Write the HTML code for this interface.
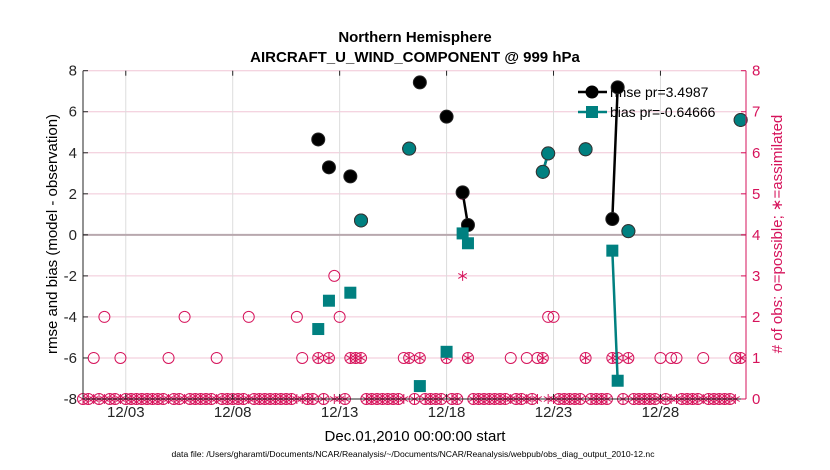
<!DOCTYPE html>
<html><head><meta charset="utf-8">
<style>
html,body{margin:0;padding:0;background:#fff;width:830px;height:470px;overflow:hidden}
svg{display:block;font-family:"Liberation Sans",sans-serif}
</style></head>
<body>
<svg id="chart" width="830" height="470" viewBox="0 0 830 470" xmlns="http://www.w3.org/2000/svg">
<text x="415" y="42" text-anchor="middle" font-size="15" font-weight="bold">Northern Hemisphere</text>
<text x="415" y="62" text-anchor="middle" font-size="15" font-weight="bold">AIRCRAFT_U_WIND_COMPONENT @ 999 hPa</text>
<text x="415" y="441" text-anchor="middle" font-size="15">Dec.01,2010 00:00:00 start</text>
<text x="413" y="457" text-anchor="middle" font-size="8.5" textLength="483" lengthAdjust="spacingAndGlyphs">data file: /Users/gharamti/Documents/NCAR/Reanalysis/~/Documents/NCAR/Reanalysis/webpub/obs_diag_output_2010-12.nc</text>
<text transform="translate(57,234) rotate(-90)" text-anchor="middle" font-size="15">rmse and bias (model - observation)</text>
<text transform="translate(782,234) rotate(-90)" text-anchor="middle" font-size="15" fill="#d6135b"># of obs: o=possible; ∗=assimilated</text>
<g id="grid"></g><g id="legend"></g><g id="obs"></g><g id="series"></g><g id="axes"></g>
</svg>
<script>
// ---- data ----
const xTickDays = [2, 7, 12, 17, 22, 27];
const xTickLabels = ["12/03", "12/08", "12/13", "12/18", "12/23", "12/28"];
const yTicks = [-8, -6, -4, -2, 0, 2, 4, 6, 8];
const yRightTicks = [0, 1, 2, 3, 4, 5, 6, 7, 8];
const rmseDays = [11, 11.5, 12.5, 13, 15.25, 15.75, 17, 17.75, 18, 21.5, 21.75, 23.5, 24.75, 25, 25.5, 30.75];
const rmseVals = [4.65, 3.29, 2.85, 0.7, 4.2, 7.43, 5.76, 2.07, 0.48, 3.07, 3.97, 4.17, 0.77, 7.19, 0.18, 5.6];
const biasVals = [-4.59, -3.21, -2.82, 0.7, 4.2, -7.37, -5.7, 0.07, -0.41, 3.07, 3.97, 4.17, -0.77, -7.11, 0.18, 5.6];
const possibleDays = [0.5, 1, 1.75, 4, 4.75, 6.25, 7.75, 10, 10.25, 11, 11.5, 11.75, 12, 12.5, 12.75, 13, 15, 15.25, 15.75, 17, 17.75, 18, 20, 20.75, 21.25, 21.5, 21.75, 22, 23.5, 24.75, 25, 25.5, 27, 27.5, 27.75, 29, 30.5, 30.75];
const possibleCounts = [1, 2, 1, 1, 2, 1, 2, 2, 1, 1, 1, 3, 2, 1, 1, 1, 1, 1, 1, 1, 5, 1, 1, 1, 1, 1, 2, 2, 1, 1, 1, 1, 1, 1, 1, 1, 1, 1];
const assimCounts = [0, 0, 0, 0, 0, 0, 0, 0, 0, 1, 1, 0, 0, 1, 1, 1, 0, 1, 1, 1, 3, 1, 0, 0, 0, 1, 0, 0, 1, 1, 1, 1, 0, 0, 0, 0, 0, 1];
// ---- axes ----
const X0 = 83, X1 = 746, Y0 = 70.7, Y1 = 399;
const xS = d => X0 + d / 31 * (X1 - X0);
const yS = v => Y1 - (v + 8) / 16 * (Y1 - Y0);
const yR = n => Y1 - n / 8 * (Y1 - Y0);
const NS = "http://www.w3.org/2000/svg";
function mk(tag, attrs, parent) { const e = document.createElementNS(NS, tag); for (const k in attrs) e.setAttribute(k, attrs[k]); parent.appendChild(e); return e; }
const grid = document.getElementById('grid'), axes = document.getElementById('axes'), obs = document.getElementById('obs'), ser = document.getElementById('series'), leg = document.getElementById('legend');
const CR = "#d6135b", TE = "#008080";
yTicks.forEach(v => {
  const l = mk('line', {x1: X0, x2: X1, y1: yS(v), y2: yS(v), stroke: "#f0c6d6", "stroke-width": 1}, grid);
  
  
});
xTickDays.forEach(d => {
  const l = mk('line', {x1: xS(d), x2: xS(d), y1: Y0, y2: Y1, stroke: "#dcdcdc", "stroke-width": 1}, grid);
  
  
});
const zl = mk('line', {x1: X0, x2: X1, y1: yS(0), y2: yS(0), stroke: "#b8a8ae", "stroke-width": 2}, grid);


// legend
[["rmse pr=3.4987", "#000", 92, "c"], ["bias pr=-0.64666", TE, 112, "s"]].forEach(([t, c, y, m]) => {
  const g = mk('g', {}, leg);
  
  
  mk('line', {x1: 578, x2: 607, y1: y, y2: y, stroke: c, "stroke-width": 2.5}, g);
  if (m === "c") mk('circle', {cx: 592, cy: y, r: 6.5, fill: c}, g);
  else mk('rect', {x: 586, y: y - 6, width: 12, height: 12, fill: c}, g);
  const tx = mk('text', {x: 610, y: y + 5, "font-size": 14}, g); tx.textContent = t;
});
// obs markers (all 6-hourly slots)
function star(x, y, g) {
  for (let a = 0; a < 3; a++) { const an = a * Math.PI / 3 + Math.PI / 2; mk('line', {x1: x - 5 * Math.cos(an), y1: y - 5 * Math.sin(an), x2: x + 5 * Math.cos(an), y2: y + 5 * Math.sin(an), stroke: CR, "stroke-width": 1}, g); }
}
for (let k = 0; k < 124; k++) {
  const d = k * 0.25;
  const i = possibleDays.indexOf(d);
  const p = i >= 0 ? possibleCounts[i] : 0, a = i >= 0 ? assimCounts[i] : 0;
  const g = mk('g', {}, obs);
  
  
  mk('circle', {cx: xS(d), cy: yR(p), r: 5.5, fill: "none", stroke: CR, "stroke-width": 1}, g);
  star(xS(d), yR(a), g);
}
// series
function seriesDraw(vals, color, name) {
  for (let i = 1; i < rmseDays.length; i++) {
    if (Math.abs(rmseDays[i] - rmseDays[i - 1] - 0.25) < 1e-6) {
      const l = mk('line', {x1: xS(rmseDays[i - 1]), y1: yS(vals[i - 1]), x2: xS(rmseDays[i]), y2: yS(vals[i]), stroke: color, "stroke-width": 2.5}, ser);
      
      
    }
  }
}
seriesDraw(rmseVals, "#000", "rmse");
rmseDays.forEach((d, i) => {
  const c = mk('circle', {cx: xS(d), cy: yS(rmseVals[i]), r: 6.5, fill: "#000", stroke: "#222", "stroke-width": 1}, ser);
  
  
});
seriesDraw(biasVals, TE, "bias");
rmseDays.forEach((d, i) => {
  let m;
  if (Math.abs(biasVals[i] - rmseVals[i]) < 1e-6) m = mk('circle', {cx: xS(d), cy: yS(biasVals[i]), r: 6.5, fill: TE, stroke: "#333", "stroke-width": 1}, ser);
  else m = mk('rect', {x: xS(d) - 6, y: yS(biasVals[i]) - 6, width: 12, height: 12, fill: TE}, ser);
  
  
});
// axes
mk('line', {x1: X0, x2: X0, y1: Y0, y2: Y1, stroke: "#262626", "stroke-width": 1}, axes);
mk('line', {x1: X1, x2: X1, y1: Y0, y2: Y1, stroke: CR, "stroke-width": 1}, axes);
mk('line', {x1: X0, x2: X1, y1: Y1, y2: Y1, stroke: "#262626", "stroke-width": 1}, axes);
yTicks.forEach(v => {
  mk('line', {x1: X0, x2: X0 + 5, y1: yS(v), y2: yS(v), stroke: "#262626"}, axes);
  const t = mk('text', {x: X0 - 6, y: yS(v) + 5, "text-anchor": "end", "font-size": 15, fill: "#262626"}, axes);
  
  
  t.textContent = v;
});
yRightTicks.forEach(n => {
  mk('line', {x1: X1 - 5, x2: X1, y1: yR(n), y2: yR(n), stroke: CR}, axes);
  const t = mk('text', {x: X1 + 6, y: yR(n) + 5, "font-size": 15, fill: CR}, axes);
  
  
  t.textContent = n;
});
xTickDays.forEach((d, i) => {
  mk('line', {x1: xS(d), x2: xS(d), y1: Y0, y2: Y0 + 5, stroke: "#262626"}, axes);
  mk('line', {x1: xS(d), x2: xS(d), y1: Y1, y2: Y1 - 5, stroke: "#262626"}, axes);
  const t = mk('text', {x: xS(d), y: Y1 + 18, "text-anchor": "middle", "font-size": 15, fill: "#262626"}, axes);
  
  
  t.textContent = xTickLabels[i];
});
</script>
</body></html>
